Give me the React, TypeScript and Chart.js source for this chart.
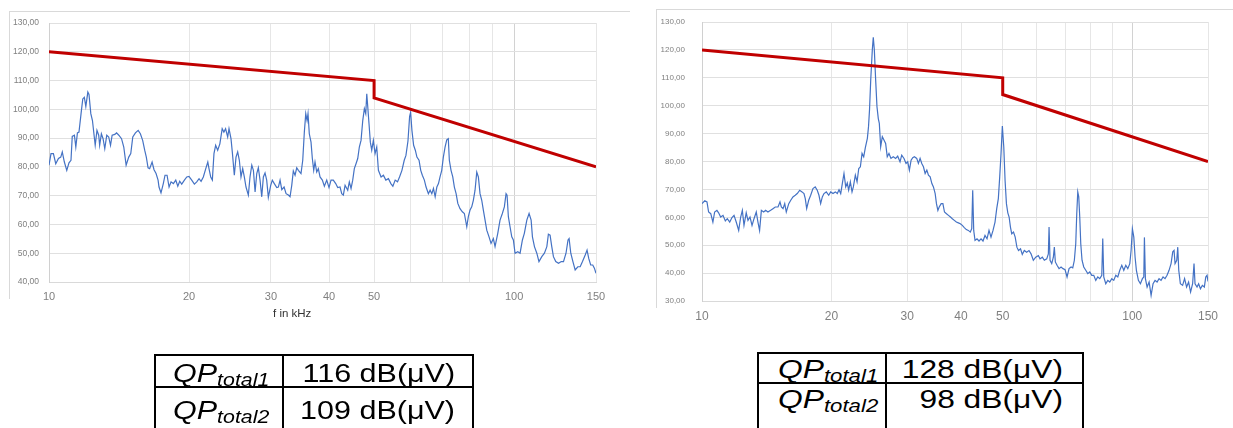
import React, { useEffect, useRef } from "react";
import { Chart, registerables } from "chart.js";
Chart.register(...registerables);

// ---------- data ----------
const LIMIT_F = [10, 50, 50, 150];
const LIMIT_V = [120, 110, 104, 80];
const X_GRID = [10, 20, 30, 40, 50, 60, 70, 80, 90, 100, 150];
const X_LABELS = [10, 20, 30, 40, 50, 100, 150];

const F1 = [10.0, 10.1, 10.22, 10.34, 10.48, 10.6, 10.68, 10.79, 10.92, 11.04, 11.15, 11.22, 11.34, 11.42, 11.51, 11.6, 11.72, 11.82, 11.91, 12.0, 12.12, 12.19, 12.3, 12.4, 12.57, 12.68, 12.79, 12.85, 12.96, 13.07, 13.18, 13.31, 13.44, 13.56, 13.67, 13.85, 13.97, 14.13, 14.32, 14.48, 14.65, 14.84, 14.99, 15.14, 15.34, 15.55, 15.72, 15.9, 16.06, 16.19, 16.33, 16.46, 16.66, 16.82, 16.99, 17.16, 17.24, 17.41, 17.61, 17.76, 17.94, 18.12, 18.3, 18.51, 18.73, 18.92, 19.1, 19.29, 19.55, 19.78, 20.0, 20.27, 20.54, 20.78, 21.02, 21.23, 21.47, 21.73, 21.95, 22.08, 22.27, 22.45, 22.63, 22.82, 23.05, 23.3, 23.57, 23.77, 23.97, 24.22, 24.38, 24.62, 24.78, 25.03, 25.24, 25.45, 25.66, 25.87, 26.09, 26.3, 26.52, 26.83, 27.05, 27.29, 27.51, 27.74, 27.97, 28.19, 28.43, 28.67, 28.9, 29.14, 29.38, 29.62, 29.97, 30.21, 30.51, 30.88, 31.13, 31.39, 31.66, 32.02, 32.34, 32.71, 32.98, 33.26, 33.52, 33.81, 34.09, 34.37, 34.82, 35.12, 35.4, 35.65, 35.88, 36.05, 36.28, 36.59, 36.83, 37.08, 37.32, 37.64, 37.94, 38.26, 38.7, 39.09, 39.55, 40.0, 40.4, 40.86, 41.35, 41.76, 42.24, 42.6, 42.94, 43.31, 43.88, 44.23, 44.61, 44.98, 45.34, 45.72, 46.11, 46.48, 46.87, 47.27, 47.65, 47.98, 48.22, 48.46, 48.76, 49.08, 49.42, 49.82, 50.24, 50.66, 51.08, 51.76, 52.36, 52.99, 53.68, 54.33, 54.87, 55.5, 56.15, 56.71, 57.39, 58.05, 58.54, 59.13, 59.61, 59.91, 60.3, 60.81, 61.32, 61.81, 62.46, 62.99, 63.49, 64.13, 64.67, 65.42, 65.98, 66.54, 67.08, 67.65, 68.22, 68.77, 69.3, 69.89, 70.45, 71.05, 71.65, 72.2, 72.57, 73.18, 73.81, 74.4, 75.04, 75.68, 76.51, 77.4, 78.17, 79.11, 79.73, 80.4, 81.08, 81.73, 82.42, 83.12, 83.79, 84.48, 85.2, 85.88, 86.61, 87.34, 88.33, 89.21, 90.24, 91.0, 92.23, 93.27, 94.35, 95.29, 96.1, 96.58, 97.2, 98.01, 98.85, 99.64, 100.48, 101.83, 103.0, 104.2, 105.2, 106.5, 107.7, 108.8, 109.5, 110.6, 111.9, 113.1, 114.7, 116.2, 117.6, 118.5, 119.5, 120.5, 121.5, 122.9, 124.6, 126.3, 127.7, 129.3, 130.6, 131.3, 132.4, 133.8, 135.3, 137.1, 138.7, 140.3, 142.2, 143.5, 144.7, 146.1, 147.6, 148.8, 150];
const V1 = [80.6, 84.6, 84.6, 81.1, 82.9, 83.4, 85.2, 81.7, 78.8, 81.4, 82.3, 90.6, 91, 86.9, 91.8, 92.1, 98.5, 103.6, 104.2, 101, 106, 105.2, 98.5, 96.1, 87.5, 92.7, 91, 87.5, 91.5, 89.8, 86.3, 91, 90.4, 87.5, 91, 91.3, 91.8, 91, 89.8, 86.9, 80.6, 83.4, 84.6, 90.4, 91.8, 92.7, 91.5, 89.2, 85.8, 83.4, 79.7, 79.4, 81.7, 79, 77.7, 75.4, 73, 71, 74.2, 77.1, 77.1, 73, 74.8, 74.2, 75.4, 73.3, 75, 74, 75.4, 76.5, 76.7, 75.4, 74, 74.8, 75.9, 75, 76.5, 79.4, 81.7, 79.4, 76.5, 75.4, 84.6, 87.5, 85.8, 88, 93.3, 92.1, 93.3, 90.4, 93.3, 89.8, 85.2, 77.1, 83.4, 85.2, 82.3, 76.5, 79.4, 76.5, 73, 70.2, 76.5, 80.6, 78.8, 71.3, 77.7, 79.7, 75.4, 69.6, 76.5, 77.9, 75.4, 69.4, 73.6, 75.4, 74.2, 72.8, 73, 75.4, 72.1, 73, 70.7, 70.2, 69.6, 73.6, 78.6, 77.1, 79.7, 78.8, 77.7, 82.3, 92.1, 98.5, 96.1, 98.5, 91.5, 88.6, 82.9, 78.8, 81.7, 78.2, 79.4, 76.5, 75.4, 73.3, 75.4, 72.8, 75.4, 75.4, 74.2, 72.8, 73, 70.7, 70.2, 73.6, 71.9, 74.8, 72.5, 75.4, 79.4, 81.1, 82.9, 86.9, 89.2, 96.1, 100.2, 98.5, 105.4, 100.8, 95, 88.6, 85.8, 89.2, 84.6, 86.9, 78.8, 76.5, 77.1, 75.4, 75.9, 74.2, 73.3, 75.4, 74.8, 76.5, 78.8, 82.3, 84, 89, 97.5, 99, 92.7, 87.5, 85.8, 83.4, 82.3, 78.8, 77.1, 75.4, 73, 70.7, 71.9, 70.7, 72.5, 69.6, 73, 74.2, 76.5, 78.8, 83.4, 86.9, 89.4, 89.8, 82.3, 78.8, 76.5, 73, 70.7, 67.3, 65.5, 64.4, 63.8, 59.2, 62.7, 65, 66.1, 68.4, 71.9, 78.2, 76.5, 70.7, 68.4, 65, 61.5, 58, 55.7, 53.4, 55.1, 52.3, 56.9, 61.5, 63.8, 66.1, 70.7, 70.2, 62.7, 59.2, 55.7, 54.6, 50, 50.5, 50, 54.6, 56.9, 61.5, 63.8, 61.5, 55.7, 52.3, 50, 47.1, 48.8, 50, 52.3, 56.6, 56.3, 52.3, 48.8, 47.1, 46.5, 47.1, 47.1, 50, 54.6, 55.1, 50, 47.1, 44.2, 45.3, 45.3, 47.1, 49.4, 51.1, 48.2, 45.9, 45.9, 44.8, 43];

const F2 = [10.0, 10.15, 10.27, 10.36, 10.48, 10.6, 10.7, 10.83, 10.93, 11.05, 11.19, 11.33, 11.45, 11.6, 11.74, 11.87, 12.01, 12.17, 12.3, 12.41, 12.52, 12.67, 12.79, 12.93, 13.07, 13.21, 13.37, 13.49, 13.61, 13.74, 13.91, 14.06, 14.23, 14.44, 14.62, 14.8, 15.02, 15.18, 15.29, 15.43, 15.57, 15.7, 15.91, 16.08, 16.27, 16.47, 16.65, 16.87, 17.08, 17.26, 17.38, 17.51, 17.7, 17.89, 18.11, 18.33, 18.53, 18.7, 18.87, 19.04, 19.21, 19.45, 19.7, 19.91, 20.16, 20.41, 20.63, 20.82, 21.01, 21.19, 21.38, 21.58, 21.76, 21.92, 22.12, 22.32, 22.48, 22.72, 22.93, 23.14, 23.34, 23.55, 23.76, 23.97, 24.23, 24.38, 24.51, 24.67, 24.88, 25.01, 25.15, 25.33, 25.51, 25.69, 25.83, 26.02, 26.25, 26.48, 26.72, 26.95, 27.2, 27.49, 27.83, 28.19, 28.5, 28.86, 29.12, 29.48, 29.8, 30.07, 30.34, 30.62, 30.89, 31.16, 31.56, 31.84, 32.13, 32.42, 32.71, 33.01, 33.31, 33.6, 33.91, 34.22, 34.51, 34.83, 35.07, 35.34, 35.59, 35.97, 36.3, 36.61, 37.0, 37.4, 37.8, 38.18, 38.59, 39.01, 39.43, 39.85, 40.28, 40.71, 41.15, 41.59, 42.04, 42.36, 42.58, 42.81, 43.11, 43.57, 44.04, 44.52, 44.99, 45.48, 45.97, 46.46, 46.96, 47.47, 47.98, 48.42, 48.84, 49.2, 49.55, 49.9, 50.28, 50.63, 51.0, 51.38, 51.74, 52.11, 52.47, 52.97, 53.45, 53.94, 54.41, 55.0, 55.52, 56.12, 56.83, 57.55, 58.18, 58.9, 59.66, 60.5, 61.05, 61.8, 62.47, 63.28, 63.83, 64.07, 64.41, 65.0, 65.56, 65.91, 66.26, 66.87, 67.59, 68.32, 69.05, 69.8, 70.55, 71.31, 72.08, 72.73, 73.36, 73.91, 74.31, 74.71, 75.11, 75.51, 75.92, 76.44, 77.14, 77.98, 78.82, 79.67, 80.52, 81.39, 82.27, 83.16, 84.06, 84.96, 85.4, 85.86, 86.79, 87.72, 88.67, 89.63, 90.59, 91.57, 92.56, 93.55, 94.56, 95.58, 96.61, 97.65, 98.7, 99.39, 100.08, 100.84, 101.54, 102.25, 103.35, 104.47, 105.59, 106.39, 106.73, 107.3, 108.28, 109.45, 110.62, 111.79, 112.99, 114.21, 115.44, 116.68, 117.93, 119.2, 120.48, 121.78, 123.09, 124.21, 125.08, 125.75, 126.9, 127.58, 128.27, 129.37, 130.94, 132.34, 133.77, 135.21, 136.66, 138.15, 139.19, 139.94, 141.45, 142.66, 144.05, 145.53, 147.1, 148.21, 149.25, 150];
const V2 = [64.9, 65.9, 65.5, 61.9, 61.3, 58.3, 61.9, 62.5, 61.6, 60.1, 60.7, 58.7, 59.5, 58.3, 59.9, 60.7, 58.3, 55.3, 60.1, 62.5, 57.1, 61.6, 58.9, 60.1, 57.1, 59.5, 61.9, 58.3, 55.3, 62.5, 61.9, 62.5, 61.9, 62.5, 63.1, 63.7, 63.7, 65.5, 63.7, 63.1, 64.9, 61.9, 64.9, 66.1, 67.3, 67.9, 68.5, 69.7, 69.1, 68.5, 66.7, 63.1, 66.1, 67.9, 70.3, 70.9, 69.7, 67.9, 64.9, 67.3, 68.5, 69.1, 67.9, 69.1, 68.5, 69.1, 68.5, 69.9, 68.5, 72.1, 75.7, 70.9, 72.3, 69.7, 72.7, 69.1, 70.9, 75.1, 72.7, 77.5, 78.1, 82.9, 81.7, 85, 88.3, 92.5, 98.5, 109.2, 120, 124.5, 120, 109.2, 99.6, 95.4, 93.7, 85.3, 88.9, 87.7, 86.5, 81.7, 82.9, 81.1, 81.7, 81.1, 81.9, 79.9, 82.3, 81.1, 79.3, 79.9, 76.9, 80.5, 81.4, 81.7, 81.1, 79.3, 81.1, 79.3, 78.1, 75.7, 76.9, 75.1, 74.5, 72.1, 70.9, 68.5, 64.9, 62.5, 63.7, 64.9, 64.9, 61.9, 61.3, 60.7, 60.1, 59.5, 58.9, 58.3, 58.0, 57.7, 57.1, 56.3, 55.6, 55.3, 54.7, 55.9, 69.7, 55.3, 51.7, 52.3, 51.5, 52.3, 51.5, 53.5, 52.3, 55.3, 52.9, 55.3, 58.3, 63.1, 66.7, 74.5, 82.9, 92.7, 85.3, 73.3, 64.9, 61.6, 60.1, 56.5, 54.1, 54.7, 52.9, 49.3, 48.1, 48.7, 46.7, 48.1, 47.5, 48.1, 46.9, 44.6, 45.7, 46.3, 45.1, 45.7, 44.6, 45.1, 46.9, 56.5, 44.6, 43.4, 45.7, 49.3, 44.0, 42.8, 41.6, 42.2, 41.6, 41.2, 38.6, 41.6, 42.2, 41.9, 44.6, 50.5, 61.3, 69.1, 67.3, 60.1, 50.5, 44.6, 42.2, 41.0, 39.8, 40.4, 39.2, 39.2, 37.4, 38.6, 38.0, 39.2, 52.4, 38.6, 36.2, 37.4, 36.8, 38.0, 37.4, 39.2, 38.6, 41.0, 42.8, 41.0, 42.8, 41.6, 43.4, 48.1, 55.9, 52.9, 45.7, 41.0, 37.4, 36.2, 38.0, 38.6, 52.8, 38.0, 35.0, 36.8, 32.0, 36.2, 37.4, 36.8, 38.0, 37.4, 38.6, 38.0, 39.2, 41.0, 43.4, 47.6, 48.1, 43.4, 44.6, 49.3, 41.0, 36.2, 35.6, 38.0, 35.0, 36.8, 33.2, 36.2, 43.4, 36.2, 35.0, 36.2, 34.4, 35.6, 35.0, 38.6, 39.2, 37];

const TABLE1_LABELS = ["total1", "total2"];
const TABLE1_VALUES = ["116 dB(μV)", "109 dB(μV)"];
const TABLE2_LABELS = ["total1", "total2"];
const TABLE2_VALUES = ["128 dB(μV)", "98 dB(μV)"];
const X_TITLE = "f in kHz";

// ---------- chart ----------
type ChartProps = {
  f: number[]; v: number[]; yMin: number; yMax: number;
  left: number; top: number; w: number; h: number;
  yAxisW: number; padTop: number; padRight: number; xAxisH: number;
  yFont: number; yPad: number; xFont: number; xPad: number;
};

function SpectrumChart(p: ChartProps) {
  const ref = useRef<HTMLCanvasElement>(null);
  useEffect(() => {
    const chart = new Chart(ref.current as HTMLCanvasElement, {
      type: "line",
      data: {
        datasets: [
          {
            data: LIMIT_F.map((x, i) => ({ x, y: LIMIT_V[i] })),
            borderColor: "#C00000", borderWidth: 3, pointRadius: 0, order: 0, tension: 0,
          },
          {
            data: p.f.map((x, i) => ({ x, y: p.v[i] })),
            borderColor: "#4472C4", borderWidth: 1.2, pointRadius: 0, order: 1, tension: 0,
          },
        ],
      },
      options: {
        responsive: false,
        animation: false,
        layout: { padding: { top: p.padTop, right: p.padRight, left: 0, bottom: 0 } },
        plugins: { legend: { display: false }, tooltip: { enabled: false } },
        scales: {
          x: {
            type: "logarithmic", min: 10, max: 150,
            afterBuildTicks: (s: any) => { s.ticks = X_GRID.map((value) => ({ value })); },
            afterFit: (s: any) => { s.height = p.xAxisH; },
            ticks: {
              autoSkip: false, maxRotation: 0, minRotation: 0, padding: p.xPad, color: "#808080",
              font: { family: "'Liberation Sans', Arial, sans-serif", size: p.xFont },
              callback: (v: any) => (X_LABELS.includes(Number(v)) ? String(v) : ""),
            },
            grid: {
              drawTicks: false, lineWidth: 1,
              color: (c: any) => (c.tick && c.tick.value === 100 ? "#d2d2d2" : "#e6e6e6"),
            },
            border: { color: "#d9d9d9" },
          },
          y: {
            min: p.yMin, max: p.yMax,
            afterFit: (s: any) => { s.width = p.yAxisW; },
            ticks: {
              stepSize: 10, padding: p.yPad, color: "#808080",
              font: { family: "'Liberation Sans', Arial, sans-serif", size: p.yFont },
              callback: (v: any) => Number(v).toFixed(2).replace(".", ","),
            },
            grid: { drawTicks: false, color: "#e0e0e0", lineWidth: 1 },
            border: { color: "#d0d0d0" },
          },
        },
      },
    } as any);
    return () => chart.destroy();
  }, []);
  return (
    <canvas
      ref={ref}
      width={p.w}
      height={p.h}
      style={{ position: "absolute", left: p.left, top: p.top, width: p.w, height: p.h }}
    />
  );
}

// ---------- table ----------
type TableProps = {
  x: number; y: number; divX: number; right: number; midY: number;
  labels: string[]; values: string[];
  qpLeft: number; valRight: number; capTops: number[]; size: number; sx: number;
};

function QPTable(t: TableProps) {
  const S = t.size;
  const line = "#000";
  const txt = (content: React.ReactNode, capTop: number, key: string, pos: any, origin: string) => (
    <div
      key={key}
      style={{
        position: "absolute", top: capTop - 0.13 * S, ...pos,
        fontFamily: "'Liberation Sans', Arial, sans-serif", fontSize: S, lineHeight: `${S}px`,
        whiteSpace: "nowrap", color: "#000", transform: `scaleX(${t.sx})`, transformOrigin: origin,
      }}
    >
      {content}
    </div>
  );
  return (
    <>
      <div style={{ position: "absolute", left: t.x - 1, top: t.y - 1, width: t.right - t.x - 2, height: 120, border: `2px solid ${line}` }} />
      <div style={{ position: "absolute", left: t.x, top: t.midY - 1, width: t.right - t.x, height: 2, background: line }} />
      <div style={{ position: "absolute", left: t.divX - 1, top: t.y, width: 2, height: 120, background: line }} />
      {t.labels.map((lab, i) =>
        txt(
          <span style={{ fontStyle: "italic" }}>
            QP<span style={{ fontSize: S * 0.7, verticalAlign: -4 }}>{lab}</span>
          </span>,
          t.capTops[i], "l" + i, { left: t.qpLeft }, "left top"
        )
      )}
      {t.values.map((val, i) =>
        txt(val, t.capTops[i], "v" + i, { right: 1233 - t.valRight }, "right top")
      )}
    </>
  );
}

export default function App() {
  return (
    <div style={{ position: "absolute", left: 0, top: 0, width: 1233, height: 428, overflow: "hidden", background: "#fff" }}>
      <div style={{ position: "absolute", left: 9, top: 11, width: 620, height: 287, borderTop: "1px solid #d9d9d9", borderLeft: "1px solid #d9d9d9" }} />
      <div style={{ position: "absolute", left: 656, top: 9, width: 577, height: 298, borderTop: "1px solid #d9d9d9", borderLeft: "1px solid #d9d9d9" }} />
      <SpectrumChart
        f={F1} v={V1} yMin={40} yMax={130}
        left={0} top={0} w={640} h={330}
        yAxisW={49} padTop={23} padRight={44} xAxisH={48}
        yFont={8.5} yPad={10} xFont={11} xPad={8}
      />
      <SpectrumChart
        f={F2} v={V2} yMin={30} yMax={130}
        left={650} top={0} w={583} h={330}
        yAxisW={52} padTop={22} padRight={25} xAxisH={29}
        yFont={8} yPad={17} xFont={12} xPad={8}
      />
      <div style={{ position: "absolute", left: 273, top: 307, fontFamily: "'Liberation Sans', Arial, sans-serif", fontSize: 11.5, color: "#333", whiteSpace: "nowrap" }}>
        {X_TITLE}
      </div>
      <QPTable x={155} y={355} divX={283} right={473} midY={387}
        labels={TABLE1_LABELS} values={TABLE1_VALUES}
        qpLeft={173} valRight={455} capTops={[364, 401]} size={25} sx={1.22} />
      <QPTable x={758} y={353} divX={886} right={1083} midY={383}
        labels={TABLE2_LABELS} values={TABLE2_VALUES}
        qpLeft={778} valRight={1063} capTops={[360, 390]} size={25} sx={1.27} />
    </div>
  );
}
